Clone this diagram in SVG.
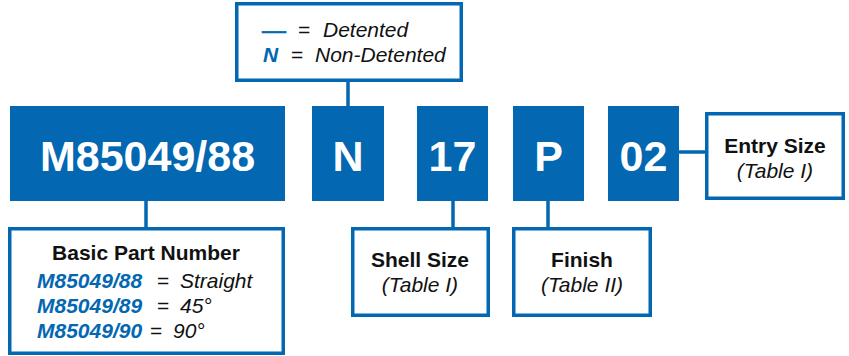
<svg xmlns="http://www.w3.org/2000/svg" width="849" height="356" viewBox="0 0 849 356">
<style>
.blk{fill:#0367B1}
.box{fill:#fff;stroke:#0367B1;stroke-width:3.5}
.big{font-family:"Liberation Sans",Arial,sans-serif;font-weight:bold;font-size:43px;fill:#fff;text-anchor:middle}
.t{font-family:"Liberation Sans",Arial,sans-serif;font-size:21px;fill:#111}
.b{font-weight:bold}
.i{font-style:italic}
.c{text-anchor:middle}
.blue{fill:#0367B1}
.con{stroke:#0367B1;stroke-width:3.5;fill:none}
</style>
<g id="connectors" class="con">
<line x1="348" y1="81" x2="348" y2="107"/>
<line x1="146" y1="200" x2="146" y2="228"/>
<line x1="453" y1="200" x2="453" y2="228"/>
<line x1="548" y1="200" x2="548" y2="228"/>
<line x1="678" y1="152" x2="706" y2="152"/>
</g>
<g id="legend">
<rect class="box" x="236.75" y="3.75" width="224.5" height="76.5"/>
<text class="t blue" x="262" y="38" style="font-size:24px;stroke:#0367B1;stroke-width:0.6">—</text>
<text class="t" x="298" y="37">=</text>
<text class="t i" x="323" y="37">Detented</text>
<text class="t blue b i" x="263" y="62">N</text>
<text class="t" x="291" y="62">=</text>
<text class="t i" x="315" y="62">Non-Detented</text>
</g>
<g id="basic">
<rect class="blk" x="10" y="106" width="275" height="95"/>
<text class="big" x="147.5" y="171">M85049/88</text>
</g>
<g id="n">
<rect class="blk" x="312" y="106" width="72" height="95"/>
<text class="big" x="348" y="171">N</text>
</g>
<g id="n17">
<rect class="blk" x="417" y="106" width="71" height="95"/>
<text class="big" x="452.5" y="171">17</text>
</g>
<g id="p">
<rect class="blk" x="513" y="106" width="71" height="95"/>
<text class="big" x="548.5" y="171">P</text>
</g>
<g id="n02">
<rect class="blk" x="608" y="106" width="71" height="95"/>
<text class="big" x="643.5" y="171">02</text>
</g>
<g id="entry">
<rect class="box" x="706.75" y="113.75" width="136.5" height="84.5"/>
<text class="t b c" x="775" y="153">Entry Size</text>
<text class="t i c" x="775" y="178">(Table I)</text>
</g>
<g id="basicpart">
<rect class="box" x="9.75" y="228.75" width="273.5" height="124.5"/>
<text class="t b c" x="146" y="260">Basic Part Number</text>
<text class="t blue b i" x="37" y="288">M85049/88</text>
<text class="t" x="157" y="288">=</text>
<text class="t i" x="180" y="288">Straight</text>
<text class="t blue b i" x="37" y="313">M85049/89</text>
<text class="t" x="157" y="313">=</text>
<text class="t i" x="180" y="313">45°</text>
<text class="t blue b i" x="37" y="338">M85049/90</text>
<text class="t" x="150" y="338">=</text>
<text class="t i" x="173" y="338">90°</text>
</g>
<g id="shell">
<rect class="box" x="352.75" y="228.75" width="135.5" height="86.5"/>
<text class="t b c" x="420" y="267">Shell Size</text>
<text class="t i c" x="420" y="292">(Table I)</text>
</g>
<g id="finish">
<rect class="box" x="513.75" y="228.75" width="136.5" height="86.5"/>
<text class="t b c" x="582" y="267">Finish</text>
<text class="t i c" x="582" y="292">(Table II)</text>
</g>
</svg>
